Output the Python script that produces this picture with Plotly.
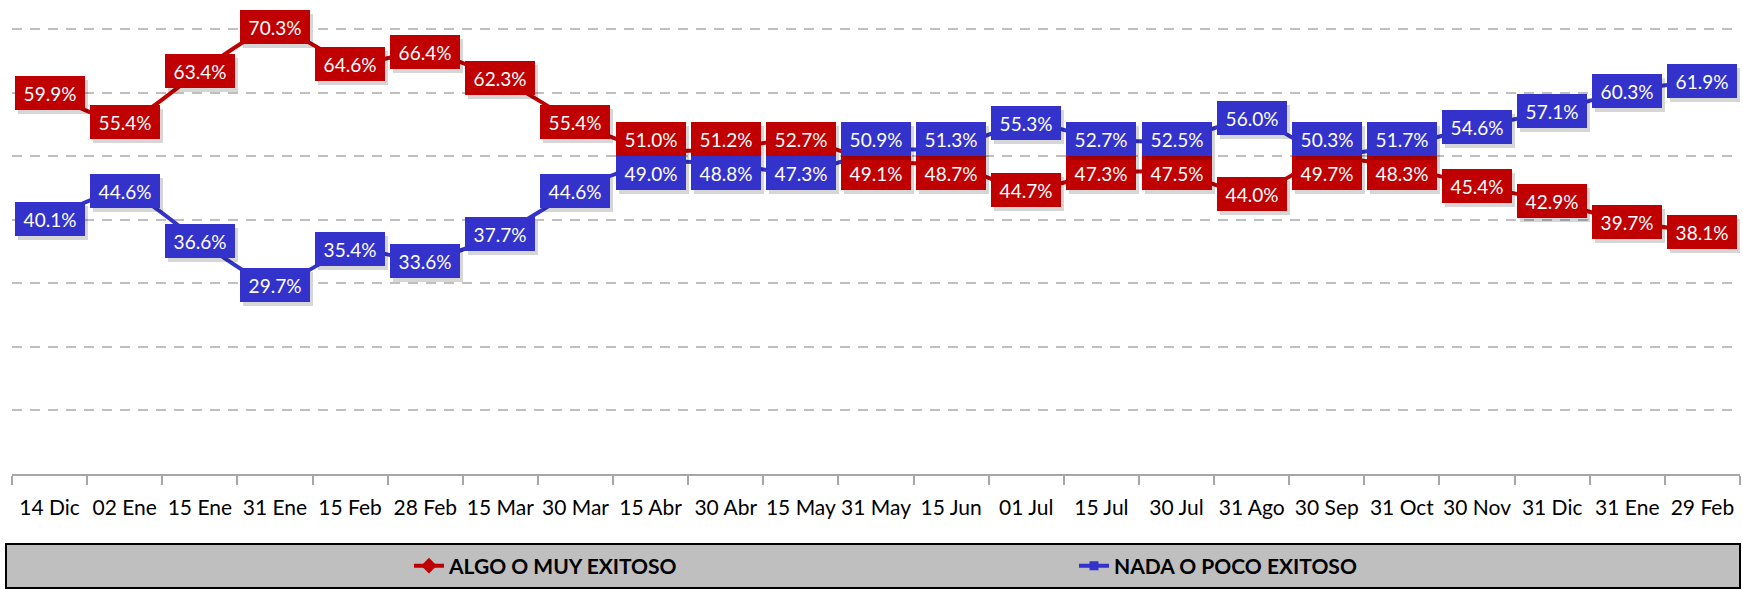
import plotly.graph_objects as go

# ---------------- data ----------------
labels = ["14 Dic", "02 Ene", "15 Ene", "31 Ene", "15 Feb", "28 Feb", "15 Mar", "30 Mar",
          "15 Abr", "30 Abr", "15 May", "31 May", "15 Jun", "01 Jul", "15 Jul", "30 Jul",
          "31 Ago", "30 Sep", "31 Oct", "30 Nov", "31 Dic", "31 Ene", "29 Feb"]
algo = [59.9, 55.4, 63.4, 70.3, 64.6, 66.4, 62.3, 55.4, 51.0, 51.2, 52.7, 49.1,
        48.7, 44.7, 47.3, 47.5, 44.0, 49.7, 48.3, 45.4, 42.9, 39.7, 38.1]
nada = [40.1, 44.6, 36.6, 29.7, 35.4, 33.6, 37.7, 44.6, 49.0, 48.8, 47.3, 50.9,
        51.3, 55.3, 52.7, 52.5, 56.0, 50.3, 51.7, 54.6, 57.1, 60.3, 61.9]
series_names = ["ALGO O MUY EXITOSO", "NADA O POCO EXITOSO"]

# ---------------- style ----------------
RED = "#C00000"
BLUE = "#3333CC"
FONT = "Lato, 'Open Sans', sans-serif"
W, H = 1743, 590
ML, MR, MT, MB = 12, 3, 0, 116
YMAX = 74.6
PPU = (H - MT - MB) / YMAX          # pixels per percentage point
BOX_W, BOX_H, PAD = 70, 34, 6

x = list(range(len(labels)))

fig = go.Figure()
fig.add_trace(go.Scatter(
    x=x, y=algo, name=series_names[0], mode="lines+markers",
    line=dict(color=RED, width=4, shape="spline", smoothing=0.6),
    marker=dict(symbol="diamond", size=12, color=RED),
    hoverinfo="skip"))
fig.add_trace(go.Scatter(
    x=x, y=nada, name=series_names[1], mode="lines+markers",
    line=dict(color=BLUE, width=4, shape="spline", smoothing=0.6),
    marker=dict(symbol="square", size=9, color=BLUE),
    hoverinfo="skip"))

# data labels: coloured boxes centred on points, pushed apart when they collide
annotations = []
for vals, other, col in ((algo, nada, RED), (nada, algo, BLUE)):
    for i, v in enumerate(vals):
        gap = abs(v - other[i]) * PPU
        push = max(0.0, (BOX_H - gap) / 2.0)
        ys = push if v >= other[i] else -push
        txt = f"{v:.1f}%"
        common = dict(x=i, y=v, xref="x", yref="y", text=txt, showarrow=False,
                      width=BOX_W - 2 * PAD, height=BOX_H - 2 * PAD, borderpad=PAD,
                      borderwidth=0, align="center", valign="middle")
        annotations.append(dict(common, font=dict(family=FONT, size=19, color="rgba(0,0,0,0)"),
                                bgcolor="rgba(0,0,0,0.16)", xshift=3, yshift=ys - 4))
        annotations.append(dict(common, font=dict(family=FONT, size=19, color="white"),
                                bgcolor=col, yshift=ys))

plot_h = H - MT - MB
plot_w = W - ML - MR
leg_top, leg_bot, leg_left = 544, 588, 6

fig.update_layout(
    width=W, height=H,
    margin=dict(l=ML, r=MR, t=MT, b=MB, pad=0, autoexpand=False),
    paper_bgcolor="white", plot_bgcolor="white",
    annotations=annotations,
    shapes=[dict(type="rect", xref="paper", yref="paper",
                 x0=(leg_left - ML) / plot_w, x1=1.0,
                 y0=(plot_h - leg_top) / plot_h, y1=(plot_h - leg_bot) / plot_h,
                 fillcolor="#BFBFBF", line=dict(color="black", width=2), layer="below")],
    showlegend=True,
    legend=dict(orientation="h", x=(409 - ML) / plot_w, xanchor="left",
                y=(plot_h - 566) / plot_h, yanchor="middle",
                bgcolor="rgba(0,0,0,0)", borderwidth=0,
                entrywidth=620, entrywidthmode="pixels",
                font=dict(family=FONT, size=21, color="black", weight="bold")),
    xaxis=dict(range=[-0.5, len(labels) - 0.5], tickmode="array", tickvals=x, ticktext=labels,
               ticks="", tickangle=0, automargin=False, showgrid=False, zeroline=False,
               showline=True, linecolor="#A6A6A6", linewidth=2,
               tickfont=dict(family=FONT, size=21, color="black"),
               ticklabelstandoff=14,
               minor=dict(ticks="outside", tickmode="linear", tick0=-0.5, dtick=1,
                          ticklen=9, tickcolor="#A6A6A6", tickwidth=2, showgrid=False)),
    yaxis=dict(range=[0, YMAX], tickmode="linear", tick0=0, dtick=10, automargin=False,
               showticklabels=False, ticks="", showgrid=True, gridcolor="#BFBFBF",
               gridwidth=2, griddash="10px,8px", zeroline=False, showline=False),
)

fig.write_html("out.html", config={"displayModeBar": False},
               post_script="document.body.style.margin='0';document.body.style.overflow='hidden';")
